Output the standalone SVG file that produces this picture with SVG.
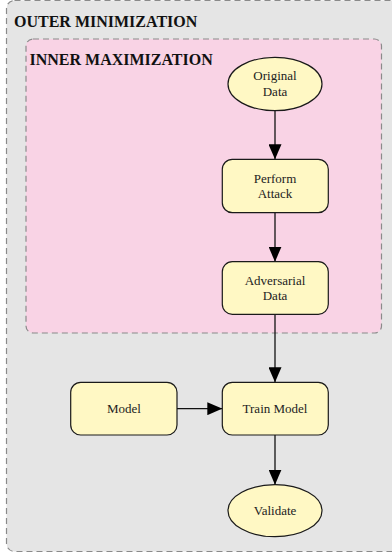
<svg xmlns="http://www.w3.org/2000/svg" width="392" height="552" viewBox="0 0 392 552">
<style>
.cluster{stroke:#8a8a8a;stroke-width:1.2;stroke-dasharray:6,4}
.node{fill:#fff8c4;stroke:#1a1a1a;stroke-width:1.2}
.lbl{font-family:"Liberation Serif","Times New Roman",serif;font-size:13px;fill:#222;text-anchor:middle}
.title{font-family:"Liberation Serif","Times New Roman",serif;font-size:16px;font-weight:bold;fill:#111}
.edge{stroke:#111;stroke-width:1.3;fill:none}
</style>
<defs>
<marker id="ah" markerUnits="userSpaceOnUse" markerWidth="15" markerHeight="13" refX="15" refY="6.5" orient="auto">
<path d="M0,0 L15,6.5 L0,13 z" fill="#000"/>
</marker>
</defs>
<g id="outer">
<rect class="cluster" x="6.5" y="0.5" width="400" height="551" rx="8" fill="#e5e5e5"/>
<text class="title" x="14" y="27">OUTER MINIMIZATION</text>
</g>
<g id="inner">
<rect class="cluster" x="26" y="39" width="355.5" height="294" rx="7" fill="#f9d3e5"/>
<text class="title" x="29.5" y="65">INNER MAXIMIZATION</text>
</g>
<g id="connectors">
<line class="edge" x1="275" y1="110.7" x2="275" y2="159.3" marker-end="url(#ah)"/>
<line class="edge" x1="275" y1="212.7" x2="275" y2="261.7" marker-end="url(#ah)"/>
<line class="edge" x1="275" y1="314.3" x2="275" y2="382.3" marker-end="url(#ah)"/>
<line class="edge" x1="177" y1="408.7" x2="222.3" y2="408.7" marker-end="url(#ah)"/>
<line class="edge" x1="275" y1="435" x2="275" y2="484.7" marker-end="url(#ah)"/>
</g>
<g id="original-data">
<ellipse class="node" cx="275" cy="84" rx="47" ry="26.7"/>
<text class="lbl" x="275" y="80">Original</text>
<text class="lbl" x="275" y="95.7">Data</text>
</g>
<g id="perform-attack">
<rect class="node" x="222.3" y="159.3" width="106" height="53.4" rx="10"/>
<text class="lbl" x="275" y="182.7">Perform</text>
<text class="lbl" x="275" y="197.7">Attack</text>
</g>
<g id="adversarial-data">
<rect class="node" x="222.3" y="261.7" width="106" height="52.6" rx="10"/>
<text class="lbl" x="275" y="285">Adversarial</text>
<text class="lbl" x="275" y="300">Data</text>
</g>
<g id="model">
<rect class="node" x="70.7" y="382.3" width="106.3" height="52.7" rx="10"/>
<text class="lbl" x="124" y="413">Model</text>
</g>
<g id="train-model">
<rect class="node" x="222.3" y="382.3" width="106" height="52.7" rx="10"/>
<text class="lbl" x="275" y="413">Train Model</text>
</g>
<g id="validate">
<ellipse class="node" cx="275" cy="510.7" rx="47" ry="26"/>
<text class="lbl" x="275" y="515">Validate</text>
</g>
</svg>
